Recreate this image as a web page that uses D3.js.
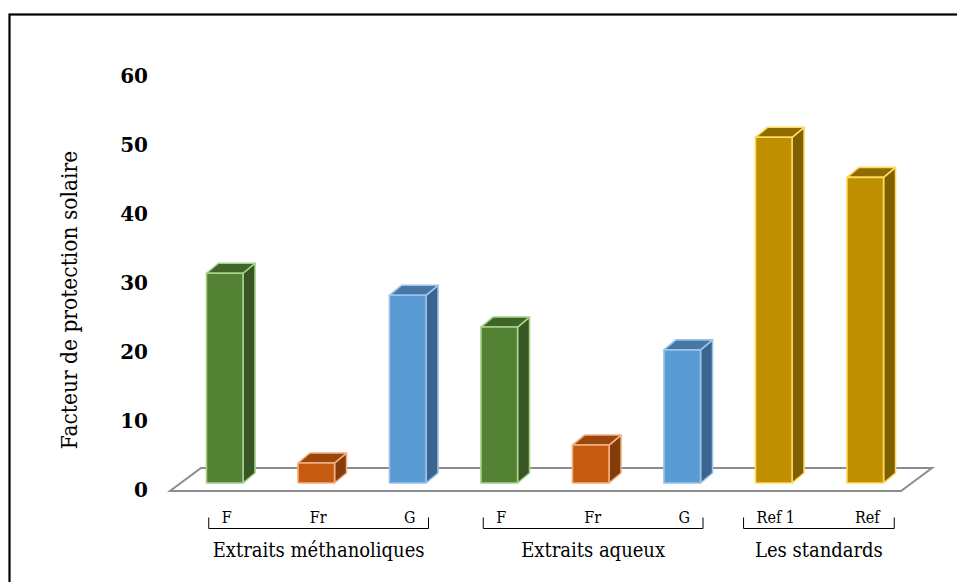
<!DOCTYPE html>
<html>
<head>
<meta charset="utf-8">
<script src="https://cdn.jsdelivr.net/npm/d3@7"></script>
<style>
  html, body { margin: 0; padding: 0; background: #fff; }
  svg { display: block; }
  .serif { font-family: "DejaVu Serif Condensed", "DejaVu Serif", "Liberation Serif", serif; }
</style>
</head>
<body>
<svg id="chart" width="957" height="582"></svg>
<script>
// Sun protection factor per extract / standard
const groups = ["Extraits méthanoliques", "Extraits méthanoliques", "Extraits méthanoliques",
                "Extraits aqueux", "Extraits aqueux", "Extraits aqueux",
                "Les standards", "Les standards"];
const categories = ["F", "Fr", "G", "F", "Fr", "G", "Ref 1", "Ref"];
const values = [30.4, 2.9, 27.2, 22.6, 5.5, 19.3, 50.1, 44.3];
const kinds = ["leaf", "fruit", "seed", "leaf", "fruit", "seed", "std", "std"];
const yTicks = [0, 10, 20, 30, 40, 50, 60];
const yTitle = "Facteur de protection solaire";

// face colours: front, side, top, edge
const palette = {
  leaf:  { front: "#548235", side: "#375623", top: "#3f6529", edge: "#a9d18e" },
  fruit: { front: "#c55a11", side: "#843c0c", top: "#9a460c", edge: "#f4b183" },
  seed:  { front: "#5b9bd5", side: "#3b6590", top: "#4677a6", edge: "#9dc3e6" },
  std:   { front: "#bf8f00", side: "#7f6000", top: "#8f6b00", edge: "#ffd966" }
};

const svg = d3.select("#chart");

// outer frame
svg.append("rect")
  .attr("x", 9.5).attr("y", 14.5)
  .attr("width", 1000).attr("height", 1000)
  .attr("fill", "none").attr("stroke", "#000").attr("stroke-width", 2.2);

const x = d3.scaleBand().domain(d3.range(categories.length))
  .range([179, 911]).paddingInner(0.6).paddingOuter(0.3);
const y = d3.scaleLinear().domain([0, 60]).range([483, 69]);

const depth = { dx: 12, dy: -10 };
const floorDepth = { dx: 31, dy: -23 };

// floor plate
const fl = 170, fr = 901, fy = 491;
svg.append("polygon")
  .attr("points", [[fl, fy], [fr, fy], [fr + floorDepth.dx, fy + floorDepth.dy], [fl + floorDepth.dx, fy + floorDepth.dy]].join(" "))
  .attr("fill", "#fff").attr("stroke", "#8c8c8c").attr("stroke-width", 2);

// y axis labels
const yAxis = d3.axisLeft(y).tickValues(yTicks).tickSize(0).tickPadding(0);
const ga = svg.append("g").attr("transform", "translate(148,7)").call(yAxis);
ga.select(".domain").remove();
ga.selectAll("text")
  .style("font-family", "'DejaVu Serif', 'Liberation Serif', serif")
  .attr("font-size", 20).attr("font-weight", "bold").attr("fill", "#000");

// axis title
svg.append("text")
  .attr("class", "serif")
  .attr("transform", "translate(77,300) rotate(-90)")
  .attr("text-anchor", "middle")
  .attr("font-size", 22.5).attr("fill", "#000")
  .text(yTitle);

// 3D bars
const bars = svg.append("g");
values.forEach((v, i) => {
  const c = palette[kinds[i]];
  const x0 = x(i), x1 = x(i) + x.bandwidth();
  const yt = y(v), yb = y(0);
  const g = bars.append("g")
    .attr("stroke", c.edge).attr("stroke-width", 1.6).attr("stroke-linejoin", "round");
  g.append("polygon")
    .attr("points", [[x1, yb], [x1 + depth.dx, yb + depth.dy], [x1 + depth.dx, yt + depth.dy], [x1, yt]].join(" "))
    .attr("fill", c.side);
  g.append("polygon")
    .attr("points", [[x0, yt], [x0 + depth.dx, yt + depth.dy], [x1 + depth.dx, yt + depth.dy], [x1, yt]].join(" "))
    .attr("fill", c.top);
  g.append("rect")
    .attr("x", x0).attr("y", yt)
    .attr("width", x1 - x0).attr("height", yb - yt)
    .attr("fill", c.front);
});

// category labels
const cx = i => x(i) + x.bandwidth() / 2 + 2;
const catG = svg.append("g");
const catLabels = categories.map((t, i) =>
  catG.append("text").attr("class", "serif")
    .attr("x", cx(i)).attr("y", 523)
    .attr("text-anchor", "middle").attr("font-size", 16).attr("fill", "#000")
    .text(t));

// group brackets and group labels
const groupNames = Array.from(new Set(groups));
groupNames.forEach(name => {
  const idx = d3.range(groups.length).filter(i => groups[i] === name);
  const first = catLabels[idx[0]].node().getBBox();
  const last = catLabels[idx[idx.length - 1]].node().getBBox();
  const l = first.x - 13, r = last.x + last.width + 13;
  svg.append("path")
    .attr("d", `M${l},517.5 V528.5 H${r} V517.5`)
    .attr("fill", "none").attr("stroke", "#000").attr("stroke-width", 1);
  svg.append("text").attr("class", "serif")
    .attr("x", (l + r) / 2).attr("y", 557)
    .attr("text-anchor", "middle").attr("font-size", 20).attr("fill", "#000")
    .text(name);
});
</script>
</body>
</html>
